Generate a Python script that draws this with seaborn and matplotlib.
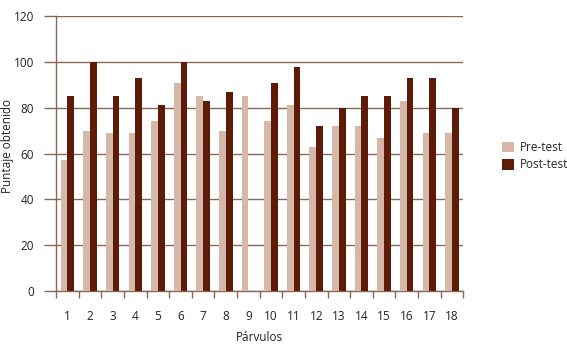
import numpy as np
import pandas as pd
import matplotlib
matplotlib.use("Agg")
import matplotlib.pyplot as plt
import seaborn as sns
from matplotlib.ticker import FixedLocator

parvulos = [str(i) for i in range(1, 19)]
pre_test = [57, 70, 69, 69, 74, 91, 85, 70, 85, 74, 81, 63, 72, 72, 67, 83, 69, 69]
post_test = [85, 100, 85, 93, 81, 100, 83, 87, np.nan, 91, 98, 72, 80, 85, 85, 93, 93, 80]
series = ["Pre-test", "Post-test"]
colors = ["#d5b8aa", "#5e1c08"]

df = pd.DataFrame({
    "Párvulos": parvulos * 2,
    "Puntaje": pre_test + post_test,
    "Prueba": [series[0]] * 18 + [series[1]] * 18,
})

sns.set_style("white")
plt.rcParams["font.family"] = ["Open Sans", "DejaVu Sans"]

line_c = "#8a6656"
fig = plt.figure(figsize=(5.67, 3.51), dpi=100)
ax = fig.add_axes([0.099, 0.171, 0.718, 0.783])

sns.barplot(data=df, x="Párvulos", y="Puntaje", hue="Prueba",
            palette=colors, width=0.6, saturation=1, linewidth=0,
            ax=ax, zorder=3)

ax.set_ylim(0, 120)
ax.set_yticks(range(0, 121, 20))
ax.set_xlim(-0.5, 17.5)
ax.yaxis.grid(True, color=line_c, linewidth=1.0, zorder=0)
ax.set_axisbelow(True)

for s in ["top", "right"]:
    ax.spines[s].set_visible(False)
for s in ["left", "bottom"]:
    ax.spines[s].set_color(line_c)
    ax.spines[s].set_linewidth(1.0)

ax.tick_params(axis="y", length=9, color=line_c, width=1.0, labelsize=8.5,
               pad=7, labelcolor="#222222", left=True)
ax.tick_params(axis="x", which="major", length=0, labelsize=8.5, pad=14,
               labelcolor="#222222")
ax.xaxis.set_minor_locator(FixedLocator(np.arange(-0.5, 18, 1)))
ax.tick_params(axis="x", which="minor", length=5, color=line_c, width=1.0,
               bottom=True)

ax.set_xlabel("Párvulos", fontsize=8.5, color="#222222")
ax.set_ylabel("Puntaje obtenido", fontsize=8.5, color="#222222")
ax.yaxis.set_label_coords(-0.104, 0.527)
ax.xaxis.set_label_coords(0.5, -0.145)

ax.legend(title=None, loc="center left", bbox_to_anchor=(1.07, 0.49),
          frameon=False, fontsize=8.5, handlelength=1.0, handleheight=1.0,
          handletextpad=0.5, labelspacing=0.35)

fig.savefig("out.png", dpi=100)
